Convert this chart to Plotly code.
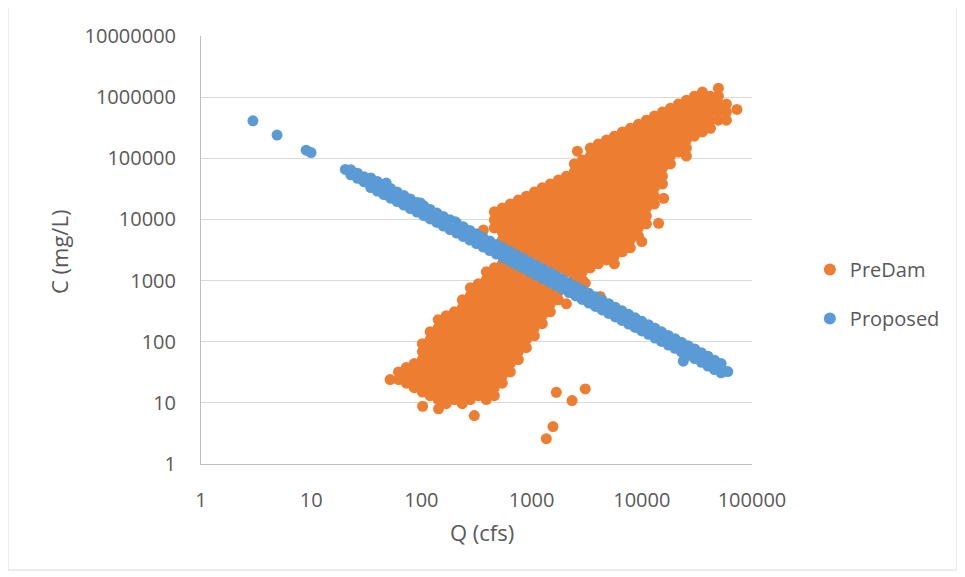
import plotly.graph_objects as go

# ---------------- data ----------------
# Proposed series: Q (cfs) and C (mg/L)
proposed_q = [
    # isolated low-flow points
    2.96, 4.9, 9.0, 9.96,
    # centre of the band
    20.4, 22.9, 26.3, 30.2, 34.7, 39.8, 45.7, 52.5, 60.3, 69.2, 79.4, 91.2,
    105, 120, 138, 158, 182, 209, 240, 275, 316, 363, 417, 479, 550, 631,
    724, 832, 955, 1100, 1260, 1450, 1660, 1910, 2190, 2510, 2880, 3310,
    3800, 4370, 5010, 5750, 6610, 7590, 8710, 10000, 11500, 13200, 15100,
    17400, 20000, 22900, 26300, 30200, 34700, 39800, 45700, 52500, 60300,
    # upper edge of the band
    22.9, 26.3, 30.2,
    34.7, 39.8, 45.7, 52.5, 60.3, 69.2, 79.4, 91.2, 105, 120, 138, 158, 182,
    209, 240, 275, 316, 363, 417, 479, 550, 631, 724, 832, 955, 1100, 1260,
    1450, 1660, 1910, 2190, 2510, 2880, 3310, 3800, 4370, 5010, 5750, 6610,
    7590, 8710, 10000, 11500, 13200, 15100, 17400, 20000, 22900, 26300,
    30200, 34700, 39800, 45700, 52500,
    # lower edge of the band
    22.9, 26.3, 30.2,
    34.7, 39.8, 45.7, 52.5, 60.3, 69.2, 79.4, 91.2, 105, 120, 138, 158, 182,
    209, 240, 275, 316, 363, 417, 479, 550, 631, 724, 832, 955, 1100, 1260,
    1450, 1660, 1910, 2190, 2510, 2880, 3310, 3800, 4370, 5010, 5750, 6610,
    7590, 8710, 10000, 11500, 13200, 15100, 17400, 20000, 22900, 26300,
    30200, 34700, 39800, 45700, 52500,
    # scattered points
    48, 98, 203, 23800,
]
proposed_c = [
    410000, 240000, 136000, 124000,
    65900, 59000, 51800, 45400, 39800, 34900, 30600, 26800, 23500, 20600,
    18100, 15800, 13900, 12200, 10700, 9350, 8200, 7190, 6300, 5520, 4840,
    4250, 3720, 3260, 2860, 2510, 2200, 1930, 1690, 1480, 1300, 1140, 998,
    875, 766, 672, 589, 516, 453, 397, 348, 305, 267, 234, 205, 180, 158,
    138, 121, 106, 93, 82, 72, 63, 55, 48, 42, 37, 32.5,
    64900, 57000, 49900,
    47800, 41900, 36700, 32200, 28200, 24700, 21700, 19000, 16700, 14600,
    12800, 11200, 9840, 8630, 7560, 6620, 5810, 5100, 4460, 3910, 3430, 3010,
    2640, 2320, 2030, 1780, 1560, 1370, 1200, 1050, 919, 806, 707, 619, 544,
    476, 418, 366, 320, 281, 246, 216, 190, 166, 145, 127, 112, 98, 86, 76,
    66, 58, 50, 44,
    53600, 47100, 41300,
    33200, 29100, 25500, 22300, 19600, 17200, 15100, 13200, 11600, 10200,
    8920, 7790, 6830, 5990, 5250, 4600, 4030, 3540, 3100, 2720, 2380, 2090,
    1830, 1610, 1410, 1230, 1080, 950, 832, 729, 638, 560, 491, 430, 378,
    331, 290, 254, 223, 195, 171, 150, 132, 115, 101, 88, 78, 68, 60, 53,
    46, 40, 35, 31,
    39400, 18600, 9200, 48,
]

# PreDam series: discharge columns and the concentrations read in each column
predam_col_q = [
    52, 62, 73, 86, 102, 120, 142, 168, 199, 235, 278, 328, 388, 459, 542,
    641, 758, 896, 1060, 1250, 1480, 1750, 2070, 2440, 2890, 3410, 4030,
    4770, 5640, 6660, 7870, 9310, 11000, 13000, 15400, 18200, 21500, 25400,
    30000, 35500, 42000, 49600, 58600,
]
predam_col_c = [
    [24],
    [32, 24],
    [38, 28, 21],
    [44, 32, 24, 17.7],
    [93, 69, 51, 38, 28, 21, 15],
    [146, 108, 80, 59, 44, 32, 24, 17.7, 13.1],
    [229, 169, 125, 93, 69, 51, 38, 28, 21, 15, 11.3],
    [266, 197, 146, 108, 80, 59, 44, 32, 24, 17.7, 13.1, 9.7],
    [309, 229, 169, 125, 93, 69, 51, 38, 28, 21, 15, 11.3],
    [485, 359, 266, 197, 146, 108, 80, 59, 44, 32, 24, 17.7, 13.1, 9.7],
    [762, 564, 417, 309, 229, 169, 125, 93, 69, 51, 38, 28, 21, 15, 11.3],
    [885, 655, 485, 359, 266, 197, 146, 108, 80, 59, 44, 32, 24, 17.7, 13.1],
    [1390, 1030, 762, 564, 417, 309, 229, 169, 125, 93, 69, 51, 38, 28, 21, 15, 11.3],
    [13300, 9800, 7260, 1620, 1200, 885, 655, 485, 359, 266, 197, 146, 108, 80,
     59, 44, 32, 24, 17.7, 13.1],
    [15400, 11400, 8450, 6250, 4630, 1880, 1390, 1030, 762, 564, 417, 309, 229,
     169, 125, 93, 69, 51, 38, 28, 21],
    [17900, 13300, 9800, 7260, 5380, 3980, 1620, 1200, 885, 655, 485, 359, 266,
     197, 146, 108, 80, 59, 44, 32],
    [20800, 15400, 11400, 8450, 6250, 4630, 3430, 1390, 1030, 762, 564, 417, 309,
     229, 169, 125, 93, 69, 51],
    [24000, 17900, 13300, 9800, 7260, 5380, 3980, 2950, 1200, 885, 655, 485, 359,
     266, 197, 146, 108, 80],
    [28000, 20800, 15400, 11400, 8450, 6250, 4630, 3430, 2540, 1030, 762, 564,
     417, 309, 229, 169, 125],
    [33000, 24000, 17900, 13300, 9800, 7260, 5380, 3980, 2950, 2180, 885, 655,
     485, 359, 266, 197],
    [38000, 28000, 20800, 15400, 11400, 8450, 6250, 4630, 3430, 2540, 1880, 762,
     564, 417, 309],
    [44000, 33000, 24000, 17900, 13300, 9800, 7260, 5380, 3980, 2950, 2180, 1620,
     655, 485],
    [51000, 38000, 28000, 20800, 15400, 11400, 8450, 6250, 4630, 3430, 2540, 1880,
     1390, 417],
    [81000, 60000, 44000, 33000, 24000, 17900, 13300, 9800, 7260, 5380, 3980, 2950,
     2180, 1620, 1200],
    [94000, 69000, 51000, 38000, 28000, 20800, 15400, 11400, 8450, 6250, 4630, 3430,
     2540, 1880, 1390, 1030],
    [147000, 109000, 81000, 60000, 44000, 33000, 24000, 17900, 13300, 9800, 7260,
     5380, 3980, 2950, 2180, 1620],
    [171000, 126000, 94000, 69000, 51000, 38000, 28000, 20800, 15400, 11400, 8450,
     6250, 4630, 3430, 2540, 1880],
    [199000, 147000, 109000, 81000, 60000, 44000, 33000, 24000, 17900, 13300, 9800,
     7260, 5380, 3980, 2950, 2180],
    [230000, 171000, 126000, 94000, 69000, 51000, 38000, 28000, 20800, 15400, 11400,
     8450, 6250, 4630, 3430, 2540, 1880],
    [270000, 199000, 147000, 109000, 81000, 60000, 44000, 33000, 24000, 17900, 13300,
     9800, 7260, 5380, 3980, 2950],
    [310000, 230000, 171000, 126000, 94000, 69000, 51000, 38000, 28000, 20800, 15400,
     11400, 8450, 6250, 4630, 3430],
    [360000, 270000, 199000, 147000, 109000, 81000, 60000, 44000, 33000, 24000, 17900,
     13300, 9800, 7260, 5380],
    [420000, 310000, 230000, 171000, 126000, 94000, 69000, 51000, 38000, 28000, 20800,
     15400, 11400, 8450],
    [490000, 360000, 270000, 199000, 147000, 109000, 81000, 60000, 44000, 33000, 24000,
     17900],
    [570000, 420000, 310000, 230000, 171000, 126000, 94000, 69000, 51000, 38000],
    [660000, 490000, 360000, 270000, 199000, 147000, 109000, 81000],
    [770000, 570000, 420000, 310000, 230000, 171000, 126000],
    [890000, 660000, 490000, 360000, 270000, 199000, 147000, 109000],
    [1040000, 770000, 570000, 420000, 310000, 230000],
    [1210000, 890000, 660000, 490000, 360000, 270000],
    [1040000, 770000, 570000, 420000, 310000],
    [1400000, 1040000, 770000, 570000, 420000],
    [770000, 570000, 420000],
]
# isolated PreDam points
predam_extra_q = [102.6, 143, 302, 1675, 2330, 3070, 1564, 1360, 365, 2600,
                  4200, 3070, 10000, 14200, 15800, 73000]
predam_extra_c = [8.8, 8.0, 6.2, 14.9, 10.9, 16.9, 4.1, 2.6, 6700, 131000,
                  549, 908, 4340, 8670, 22200, 630000]

x_tick_vals = [1, 10, 100, 1000, 10000, 100000]
x_tick_text = ["1", "10", "100", "1000", "10000", "100000"]
y_tick_vals = [1, 10, 100, 1000, 10000, 100000, 1000000, 10000000]
y_tick_text = ["1", "10", "100", "1000", "10000", "100000", "1000000", "10000000"]

# ---------------- build ----------------
predam_q = [q for q, cs in zip(predam_col_q, predam_col_c) for _ in cs] + predam_extra_q
predam_c = [c for cs in predam_col_c for c in cs] + predam_extra_c

ORANGE = "#ED7D31"
BLUE = "#5B9BD5"
TEXT = "#595959"
FONT = "Open Sans"

fig = go.Figure()
fig.add_trace(go.Scatter(
    x=predam_q, y=predam_c, mode="markers", name="PreDam", legendgroup="a",
    marker=dict(color=ORANGE, size=11, line=dict(width=0)),
))
fig.add_trace(go.Scatter(
    x=proposed_q, y=proposed_c, mode="markers", name="Proposed", legendgroup="b",
    marker=dict(color=BLUE, size=11, line=dict(width=0)),
))

# the page body has an 8 px margin, so the figure is 8 px smaller than the window
fig.update_layout(
    width=957, height=569,
    margin=dict(l=193, r=213, t=28, b=113),
    paper_bgcolor="white", plot_bgcolor="white",
    font=dict(family=FONT, color=TEXT, size=20),
    showlegend=True,
    legend=dict(
        x=1.105, y=0.50, xanchor="left", yanchor="top",
        font=dict(family=FONT, color=TEXT, size=20),
        traceorder="grouped", tracegroupgap=20, bgcolor="rgba(0,0,0,0)",
        itemsizing="constant",
    ),
    xaxis=dict(
        type="log", range=[0, 5], tickmode="array",
        tickvals=x_tick_vals, ticktext=x_tick_text,
        showgrid=False, showline=True, linecolor="#bfbfbf", linewidth=1,
        ticks="", zeroline=False, ticklabelstandoff=18,
        tickfont=dict(family=FONT, color=TEXT, size=20),
    ),
    yaxis=dict(
        type="log", range=[0, 7.0005], tickmode="array",
        tickvals=y_tick_vals, ticktext=y_tick_text,
        showgrid=True, gridcolor="#d9d9d9", gridwidth=1,
        showline=True, linecolor="#bfbfbf", linewidth=1,
        ticks="", zeroline=False, ticklabelstandoff=20,
        tickfont=dict(family=FONT, color=TEXT, size=20),
    ),
    annotations=[
        dict(text="Q (cfs)", xref="paper", yref="paper", x=0.51, y=-0.159,
             showarrow=False, xanchor="center", yanchor="middle",
             font=dict(family=FONT, color=TEXT, size=22)),
        dict(text="C (mg/L)", xref="paper", yref="paper", x=-0.2577, y=0.4953,
             showarrow=False, xanchor="center", yanchor="middle", textangle=-90,
             font=dict(family=FONT, color=TEXT, size=22)),
    ],
    shapes=[
        dict(type="rect", xref="paper", yref="paper",
             x0=-0.3503, x1=1.372, y0=-0.2477, y1=1.0678,
             line=dict(color="#d9d9d9", width=1), fillcolor="rgba(0,0,0,0)",
             layer="below"),
    ],
)

fig.write_html("out.html")
